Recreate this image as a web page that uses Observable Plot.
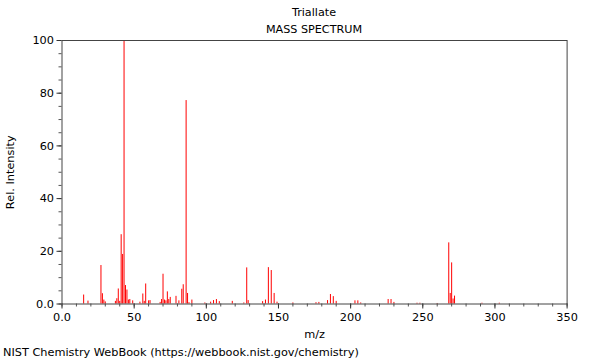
<!DOCTYPE html>
<html>
<head>
<meta charset="utf-8">
<script src="https://cdn.jsdelivr.net/npm/d3@7"></script>
<script src="https://cdn.jsdelivr.net/npm/@observablehq/plot@0.6"></script>
<style>
  html, body { margin: 0; padding: 0; background: #fff; }
  body { width: 600px; height: 360px; overflow: hidden; font-family: "DejaVu Sans", sans-serif; color: #000; }
  #head { height: 28px; position: relative; z-index: 1; }
  #head div { position: absolute; left: 0; width: 628px; text-align: center; font-size: 11.2px; line-height: 13px; }
  #t1 { top: 6px; }
  #t2 { top: 23px; }
  #chart svg { display: block; }
  #cap { font-size: 11.3px; line-height: 13px; padding-left: 3px; margin-top: 4px; }
</style>
</head>
<body>
<div id="head"><div id="t1"></div><div id="t2"></div></div>
<div id="chart"></div>
<div id="cap"></div>
<script>
const title = "Triallate";
const subtitle = "MASS SPECTRUM";
const caption = "NIST Chemistry WebBook (https://webbook.nist.gov/chemistry)";
const xLabel = "m/z";
const yLabel = "Rel. Intensity";

const mz = [15, 18, 27, 28, 29, 30, 37, 38, 39, 40, 41, 42, 43, 44, 45, 46, 47, 49, 54, 56, 57, 58, 60, 61,
  68, 69, 70, 71, 72, 73, 74, 75, 79, 81, 83, 84, 86, 87, 88, 90, 99, 103, 105, 107, 109, 118, 126, 128, 129,
  139, 141, 143, 145, 147, 149, 160, 176, 178, 184, 186, 188, 190, 203, 205, 207, 226, 228, 230, 246, 248,
  260, 268, 269, 270, 271, 272, 291, 303];
const intensity = [3.4, 1.1, 14.6, 3.9, 1.5, 0.8, 1, 2, 5.7, 1, 26.3, 18.8, 100, 7, 5.3, 1.5, 1.7, 1.2, 0.7, 3.8, 1, 7.6, 1.2, 1.3,
  0.6, 1.7, 11.3, 1.5, 1.2, 4.6, 1.7, 2.5, 2.9, 1.2, 5.6, 7.3, 77.2, 4, 0.5, 1.5, 0.4, 0.7, 1.3, 1.7, 0.9, 1, 0.4, 13.7, 1.3,
  0.9, 1.5, 13.8, 12.7, 4, 0.7, 0.4, 0.5, 0.6, 1.3, 3.6, 2.8, 1, 1.2, 1.2, 0.4, 1.7, 1.7, 0.6, 0.3, 0.3,
  0.2, 23.2, 4, 15.6, 1.9, 3, 0.3, 0.3];

const xMajorTicks = [0, 50, 100, 150, 200, 250, 300, 350];
const xMinorTicks = d3.range(0, 351, 10);
const yMajorTicks = [0, 20, 40, 60, 80, 100];
const yMinorTicks = d3.range(0, 101, 5);

const data = mz.map((m, i) => ({mz: m, intensity: intensity[i]}));
const fmt = d => d === 0 ? "0.0" : String(d);

document.getElementById("t1").textContent = title;
document.getElementById("t2").textContent = subtitle;
document.getElementById("cap").textContent = caption;

const plot = Plot.plot({
  width: 600,
  height: 314,
  marginTop: 12,
  marginBottom: 38.5,
  marginLeft: 61.5,
  marginRight: 33.4,
  style: {fontFamily: "DejaVu Sans, sans-serif", fontSize: "11.3px", color: "#000", background: "none"},
  x: {domain: [0, 350]},
  y: {domain: [0, 100]},
  marks: [
    Plot.ruleX(data, {x: "mz", y: "intensity", stroke: "#ff0000", strokeWidth: 1}),
    Plot.axisX({ticks: xMinorTicks, tickSize: 3, tickFormat: () => "", stroke: "#555", label: null}),
    Plot.axisX({ticks: xMajorTicks, tickSize: 5, tickFormat: fmt, tickPadding: 4, stroke: "#333", fill: "#000",
      label: xLabel, labelAnchor: "center", labelArrow: "none", labelOffset: 34}),
    Plot.axisY({ticks: yMinorTicks, tickSize: 3, tickFormat: () => "", stroke: "#555", label: null}),
    Plot.axisY({ticks: yMajorTicks, tickSize: 5, tickFormat: fmt, tickPadding: 3, stroke: "#333", fill: "#000",
      label: yLabel, labelAnchor: "center", labelArrow: "none", labelOffset: 56}),
    Plot.frame({stroke: "#444", strokeWidth: 1})
  ]
});
document.getElementById("chart").appendChild(plot);
</script>
</body>
</html>
